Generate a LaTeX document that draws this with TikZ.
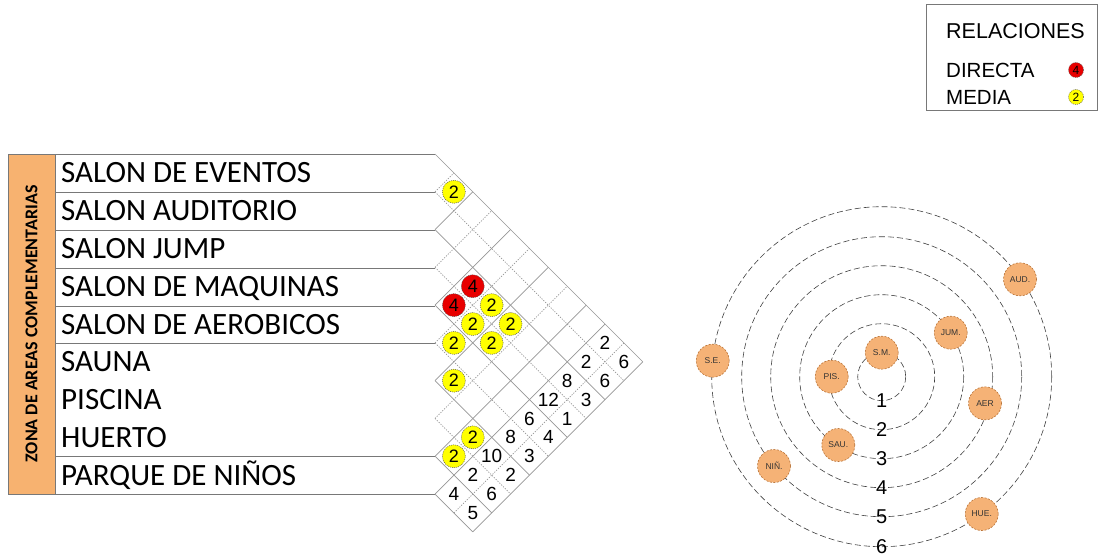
\documentclass[tikz,border=0pt]{standalone}
\usepackage{fontspec}
\setmainfont{Liberation Sans}
\newfontfamily\calibri{Carlito}
\usetikzlibrary{calc}
\definecolor{zona}{RGB}{247,178,112}
\definecolor{rulegray}{RGB}{120,120,120}
\definecolor{gridgray}{RGB}{150,150,150}
\definecolor{relred}{RGB}{232,0,0}
\definecolor{relyellow}{RGB}{255,255,0}
\definecolor{roomfill}{RGB}{245,178,118}
\definecolor{roomedge}{RGB}{185,115,55}

\begin{document}
\begin{tikzpicture}[x=1pt,y=-1pt,
    every node/.style={inner sep=0pt},
    rowlbl/.style={anchor=base west,font=\calibri\fontsize{31}{32}\selectfont},
    solidln/.style={draw=gridgray,line width=0.7pt},
    dotln/.style={draw=gridgray,line width=0.7pt,dash pattern=on 1.2pt off 1.4pt},
    rel/.style={circle,minimum size=23pt,draw=black!65,line width=0.5pt,
      dash pattern=on 1pt off 1pt,font=\fontsize{18}{18}\selectfont},
    direct/.style={rel,fill=relred},
    media/.style={rel,fill=relyellow},
    total/.style={font=\fontsize{19}{19}\selectfont},
    ring/.style={draw=black!75,line width=0.6pt,dash pattern=on 6pt off 3pt},
    room/.style={circle,minimum size=33pt,fill=roomfill,draw=roomedge,line width=0.6pt,
      dash pattern=on 2pt off 1.5pt,font=\fontsize{8.5}{8.5}\selectfont,text=black!80}
  ]
  \useasboundingbox (0,0) rectangle (1099,557);

  % zona
  \draw[rulegray,fill=zona] (8,154) rectangle (55,494);
  \node[rotate=90,font=\calibri\bfseries\fontsize{18}{18}\selectfont] (zona) at (31.5,324)
    {ZONA DE AREAS COMPLEMENTARIAS};

  % tabla
  \foreach \yy in {154,192,230,268,306,343,456,494}
    \draw[rulegray,line width=0.8pt] (55,\yy) -- (435,\yy);
  \foreach \t [count=\i] in {SALON DE EVENTOS,SALON AUDITORIO,SALON JUMP,
      SALON DE MAQUINAS,SALON DE AEROBICOS,SAUNA,PISCINA,HUERTO,PARQUE DE NIÑOS}
    \node[rowlbl] (r\i) at (61,154+37.78*\i-18.89+10) {\t};

  % matriz
  \def\xo{435}\def\yo{154}\def\s{18.89}
  \foreach \k/\st in {0/solidln,1/dotln,2/solidln,3/dotln,4/solidln,
      5/dotln,6/solidln,7/dotln,8/solidln,9/solidln}
    \draw[\st] (\xo,\yo+2*\s*\k) -- (\xo+11*\s-\s*\k,\yo+11*\s+\s*\k);
  \foreach \m/\st in {0/dotln,1/solidln,2/dotln,3/solidln,4/dotln,
      5/solidln,6/dotln,7/solidln,8/solidln}
    \draw[\st] (\xo,\yo+2*\s*\m+2*\s) -- (\xo+\s*\m+\s,\yo+\s*\m+\s);
  \draw[dotln] (\xo+\s,\yo+19*\s) -- (\xo+10*\s,\yo+10*\s);
  \draw[solidln] (\xo+2*\s,\yo+20*\s) -- (\xo+11*\s,\yo+11*\s);

  \foreach \a/\b/\n/\st in {0/0/2/media,2/3/4/direct,3/3/4/direct,2/4/2/media,
      3/4/2/media,2/5/2/media,4/4/2/media,3/5/2/media,5/5/2/media,6/7/2/media,7/7/2/media}
    \node[\st] (c\a\b) at (\xo+\s+\s*\b-\s*\a,\yo+2*\s+\s*\a+\s*\b) {\n};
  \foreach \a/\b/\n in {0/8/2,0/9/6,1/8/2,1/9/6,2/8/8,2/9/3,3/8/12,3/9/1,4/8/6,
      4/9/4,5/8/8,5/9/3,6/8/10,6/9/2,7/8/2,7/9/6,8/8/4,8/9/5}
    \node[total] (t\a\b) at (\xo+\s+\s*\b-\s*\a,\yo+2*\s+\s*\a+\s*\b) {\n};

  % anillos
  \coordinate (ctr) at (881.7,376.7);
  \foreach \r/\l in {24/1,53/2,82/3,111/4,140/5,170/6} {
    \draw[ring] (ctr) circle[radius=\r];
    \node[font=\fontsize{20}{20}\selectfont] (n\l) at ($(ctr)+(0,\r)$) {\l};
  }
  \node[room] (sm)  at (881.7,352.7) {S.M.};
  \node[room] (pis) at (831.7,376.7) {PIS.};
  \node[room] (jum) at (950.7,332.7) {JUM.};
  \node[room] (aer) at (985,403.3)   {AER};
  \node[room] (sau) at (838.3,445)   {SAU.};
  \node[room] (nin) at (774,466)     {NIÑ.};
  \node[room] (hue) at (981.7,514)   {HUE.};
  \node[room] (aud) at (1020,279.3)  {AUD.};
  \node[room] (se)  at (712.7,360.7) {S.E.};

  % leyenda
  \draw[rulegray] (926,4) rectangle (1097,110);
  \node[anchor=west,font=\fontsize{21.5}{21.5}\selectfont] (leg) at (946,31) {RELACIONES};
  \node[anchor=west,font=\fontsize{20.5}{20.5}\selectfont] (ldir) at (946,70) {DIRECTA};
  \node[anchor=west,font=\fontsize{20.5}{20.5}\selectfont] (lmed) at (946,97) {MEDIA};
  \node[direct,minimum size=15pt,font=\fontsize{12}{12}\selectfont] (kdir) at (1076,70) {4};
  \node[media,minimum size=15pt,font=\fontsize{12}{12}\selectfont] (kmed) at (1076,97) {2};
\end{tikzpicture}
\end{document}
